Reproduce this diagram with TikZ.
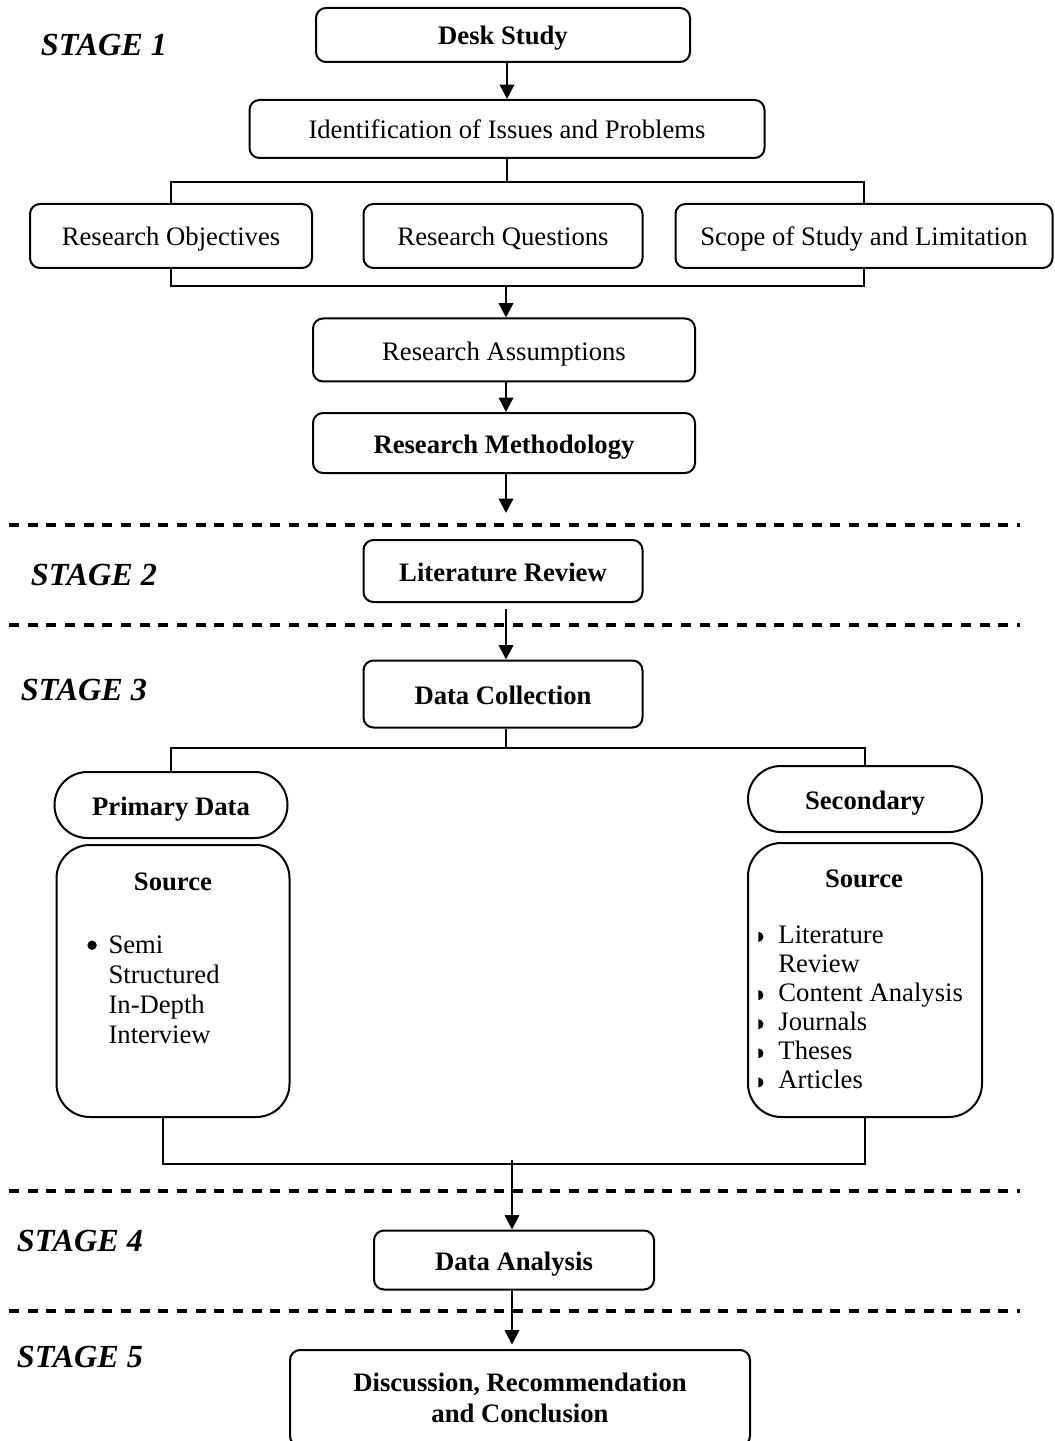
\documentclass[tikz,border=0pt]{standalone}
\usepackage{fontspec}
\setmainfont{Liberation Serif}
\usetikzlibrary{arrows.meta}

% bullets of the two source lists
\newcommand{\primark}{\tikz[baseline=0pt]\fill (2.2pt,3.5pt) circle[radius=2.1pt];}
\newcommand{\secmark}{\tikz[baseline=0pt]\fill (0pt,0.5pt) -- (0pt,5pt) arc[start angle=90,end angle=-90,radius=2.25pt] -- cycle;}

\begin{document}
\begin{tikzpicture}[x=0.45pt, y=-0.45pt,
  every node/.style={font=\fontsize{12}{14}\selectfont, inner sep=0pt},
  boxsize/.style 2 args={minimum width=#1*0.45pt, minimum height=#2*0.45pt},
  oneline/.style={text height=9pt, text depth=0pt},
  stepbox/.style={draw, line width=0.9pt, rounded corners=4.5pt, oneline},
  endbox/.style={draw, line width=0.9pt, rounded corners=4.5pt, align=center},
  pill/.style={draw, line width=0.9pt, rounded corners=14.8pt, oneline},
  srcbox/.style={draw, line width=0.9pt, rounded corners=15pt},
  stagelabel/.style={font=\fontsize{14.5}{16}\selectfont\bfseries\itshape},
  link/.style={line width=0.9pt},
  arr/.style={line width=1.1pt, -{Triangle[width=6.5pt,length=6.5pt]}},
  divider/.style={line width=1.4pt, dash pattern=on 4.5pt off 3.9pt}]
\useasboundingbox (0,0) rectangle (1055,1441);
\clip (0,0) rectangle (1055,1441);

% stage separators
\foreach \yy in {525,625,1191,1311}
  \draw[divider] (9,\yy) -- (1020,\yy);

% stage 1
\node[stagelabel] (s1) at (104,45) {STAGE 1};
\node[stepbox, boxsize={374}{54}] (desk) at (503,35) {\textbf{Desk Study}};
\node[stepbox, boxsize={515}{58}] (ident) at (507,129) {Identification of Issues and Problems};
\node[stepbox, boxsize={282}{64}] (obj) at (171,236) {Research Objectives};
\node[stepbox, boxsize={279}{64}] (ques) at (503,236) {Research Questions};
\node[stepbox, boxsize={377}{64}] (scope) at (864,236) {Scope of Study and Limitation};
\node[stepbox, boxsize={382}{63}] (assum) at (504,350) {Research Assumptions};
\node[stepbox, boxsize={382}{60}] (meth) at (504,443) {\textbf{Research Methodology}};
\coordinate (s2in) at (506,513);

% stage 2
\node[stagelabel] (s2) at (94,575) {STAGE 2};
\node[stepbox, boxsize={279}{62}] (litrev) at (503,571) {\textbf{Literature Review}};

% stage 3
\node[stagelabel] (s3) at (84,690) {STAGE 3};
\node[stepbox, boxsize={279}{67}] (datacol) at (503,694) {\textbf{Data Collection}};
\node[pill, boxsize={233}{66}] (prim) at (171,805) {\textbf{Primary Data}};
\node[srcbox, boxsize={233}{272}] (psrc) at (173,981) {};
\node (pshead) at (173,882) {\textbf{Source}};
\node[anchor=base west, font=\fontsize{12}{13.5}\selectfont] (pslist) at (87,953)
  {\begin{tabular}[t]{@{}l@{\hspace{5.3pt}}l@{}}
   \primark & Semi\\ & Structured\\ & In-Depth\\ & Interview
   \end{tabular}};
\node[pill, boxsize={234}{66}] (sec) at (865,799) {\textbf{Secondary}};
\node[srcbox, boxsize={234}{274}] (ssrc) at (865,980) {};
\node (sshead) at (864,879) {\textbf{Source}};
\node[anchor=base west, font=\fontsize{12}{13.1}\selectfont] (sslist) at (758,943)
  {\begin{tabular}[t]{@{}l@{\hspace{6.75pt}}l@{}}
   \secmark & Literature\\ & Review\\ \secmark & Content Analysis\\
   \secmark & Journals\\ \secmark & Theses\\ \secmark & Articles
   \end{tabular}};

% stage 4 and 5
\node[stagelabel] (s4) at (80,1241) {STAGE 4};
\node[stepbox, boxsize={280}{59}] (analysis) at (514,1260) {\textbf{Data Analysis}};
\node[stagelabel] (s5) at (80,1357) {STAGE 5};
\node[endbox, boxsize={460}{96}] (discuss) at (520,1398)
  {\textbf{Discussion, Recommendation}\\\textbf{and Conclusion}};

% connectors
\draw[arr] (desk.south -| ident.north) -- (ident.north);
\coordinate (split1) at (507,182);
\draw[link] (ident.south) -- (split1);
\draw[link] (obj.north) |- (split1) -| (scope.north);
\coordinate (join1) at (506,286);
\draw[link] (obj.south) |- (join1) -| (scope.south);
\draw[arr] (join1) -- (join1 |- assum.north);
\draw[arr] (assum.south -| join1) -- (join1 |- meth.north);
\draw[arr] (meth.south -| s2in) -- (s2in);
\draw[arr, shorten <=2.7pt] (litrev.south -| s2in) -- (s2in |- datacol.north);
\coordinate (split2) at (506,748);
\draw[link] (datacol.south -| split2) -- (split2);
\draw[link] (prim.north) |- (split2) -| (sec.north);
\coordinate (join2) at (512,1164);
\draw[link] ([xshift=-4.5pt]psrc.south) |- (join2) -| (ssrc.south);
\draw[arr] ([yshift=1.8pt]join2) -- (join2 |- analysis.north);
\draw[arr, shorten >=2pt] (analysis.south -| join2) -- (join2 |- discuss.north);
\end{tikzpicture}
\end{document}
